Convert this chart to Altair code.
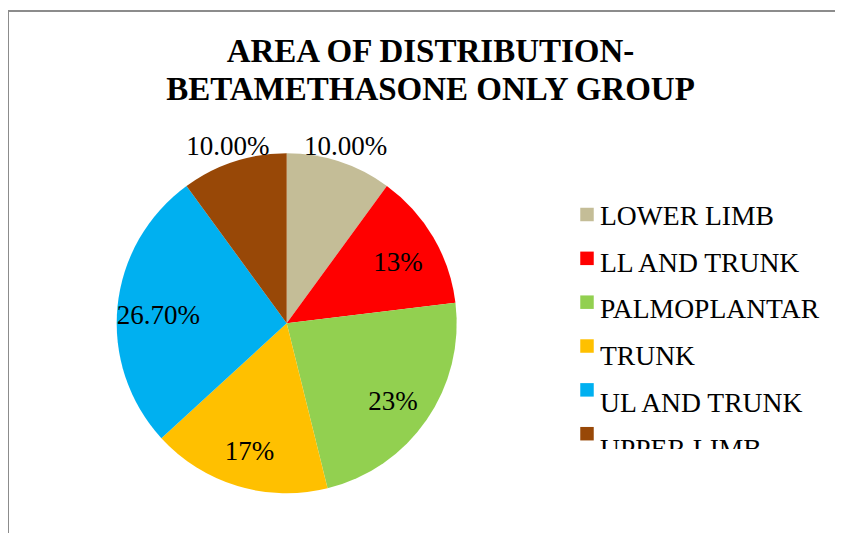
import altair as alt
import pandas as pd

# ---- data ----
categories = ["LOWER LIMB", "LL AND TRUNK", "PALMOPLANTAR", "TRUNK", "UL AND TRUNK", "UPPER LIMB"]
percent_values = [10.0, 13.0, 23.0, 17.0, 26.7, 10.0]
label_texts = ["10.00%", "13%", "23%", "17%", "26.70%", "10.00%"]
slice_colors = ["#C4BD97", "#FF0000", "#92D050", "#FFC000", "#00B0F0", "#984807"]
title_lines = ["AREA OF DISTRIBUTION-", "BETAMETHASONE ONLY GROUP"]

df = pd.DataFrame({
    "category": categories,
    "value": percent_values,
    "label": label_texts,
    "order": list(range(len(categories))),
})

FONT = "Liberation Serif"
W, H = 827, 441          # plot area (bottom edge = legend clip line)
CX, CY, R = 278.7, 315.3, 170

color = alt.Color("category:N",
                  scale=alt.Scale(domain=categories, range=slice_colors),
                  legend=None)
theta = alt.Theta("value:Q", stack=True)
order = alt.Order("order:Q")

base = alt.Chart(df)

pie = base.mark_arc(radius=R).encode(
    theta=theta, color=color, order=order,
    x=alt.value(CX), y=alt.value(CY),
)

inner_labels = base.mark_text(radius=129, dy=5, font=FONT, fontSize=27, color="black").encode(
    theta=theta, order=order,
    text=alt.condition("datum.value >= 11", "label:N", alt.value("")),
    x=alt.value(CX), y=alt.value(CY),
)

outer_labels = base.mark_text(radius=190, dy=4, font=FONT, fontSize=27, color="black").encode(
    theta=theta, order=order,
    text=alt.condition("datum.value < 11", "label:N", alt.value("")),
    x=alt.value(CX), y=alt.value(CY),
)

legend_squares = base.mark_square(size=182, opacity=1, clip=True).encode(
    x=alt.value(579),
    y=alt.Y("category:N",
            scale=alt.Scale(type="point", domain=categories, range=[206.5, 425.7], padding=0),
            axis=None),
    color=color,
)

legend_text = base.mark_text(align="left", baseline="alphabetic", font=FONT,
                             fontSize=27.6, color="black", clip=True).encode(
    x=alt.value(592),
    y=alt.Y("category:N",
            scale=alt.Scale(type="point", domain=categories, range=[217, 450.3], padding=0),
            axis=None),
    text="category:N",
)

one = alt.Chart(pd.DataFrame({"k": [0]}))

title = one.mark_text(text=title_lines, font=FONT, fontSize=33, fontWeight="bold",
                      align="center", baseline="alphabetic", lineHeight=38,
                      color="black").encode(
    x=alt.value(422.5), y=alt.value(54),
)

frame_top = one.mark_rule(color="#8C8C8C", strokeWidth=2).encode(
    x=alt.value(0), x2=alt.value(W), y=alt.value(3),
)
frame_left = one.mark_rule(color="#8C8C8C", strokeWidth=2).encode(
    x=alt.value(0), y=alt.value(3), y2=alt.value(525),
)

chart = alt.layer(
    frame_top, frame_left, pie, inner_labels, outer_labels,
    legend_squares, legend_text, title,
).resolve_scale(y="independent").properties(
    width=W, height=H,
    autosize=alt.AutoSizeParams(type="none"),
    padding={"left": 0, "top": 0, "right": 0, "bottom": 84},
).configure_view(stroke=None)

chart.save("out.html", embed_options={"renderer": "svg", "actions": False})
